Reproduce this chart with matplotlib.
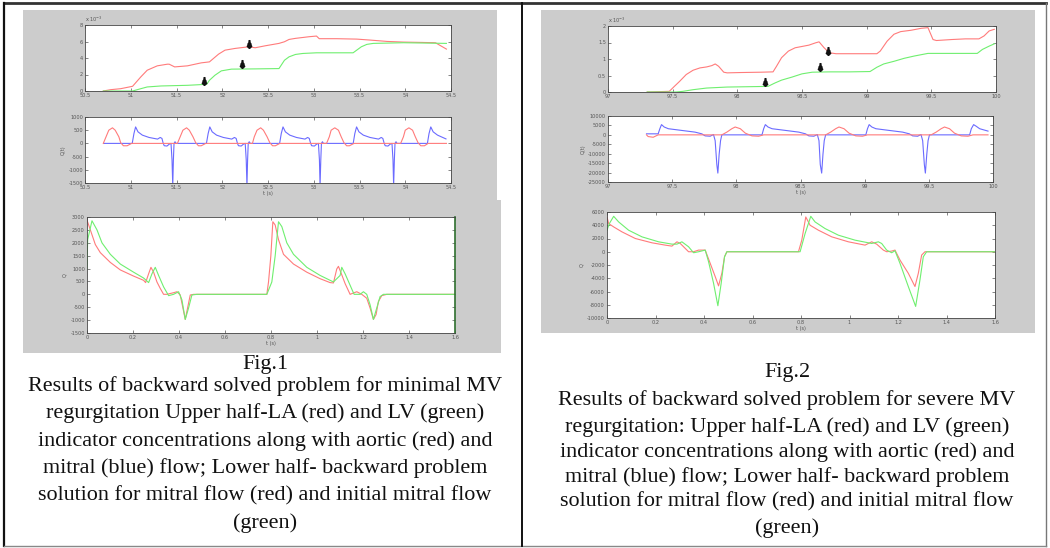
import numpy as np
import matplotlib
matplotlib.use('Agg')
import matplotlib.pyplot as plt
from matplotlib.patches import Rectangle
from matplotlib.lines import Line2D
from matplotlib.ticker import FixedLocator, FixedFormatter

W, H = 1050, 548

# ---------------- Fig.1 (minimal MV regurgitation) ----------------
# Upper: LA (red) and LV (green) indicator concentrations (x1e-3)
f1_la_t = [50.70, 50.78, 50.89, 51.02, 51.11, 51.18, 51.29, 51.40, 51.42, 51.48, 51.62, 51.77,
           51.86, 51.96, 52.03, 52.14, 52.29, 52.36, 52.47, 52.62, 52.68, 52.73, 52.80, 52.95,
           53.03, 53.06, 53.25, 53.47, 53.62, 53.80, 53.98, 54.17, 54.33, 54.45]
f1_la_c = [0, 0.16, 0.28, 0.57, 1.71, 2.52, 3.05, 3.25, 3.25, 2.92, 3.05, 3.41,
           3.53, 4.47, 4.95, 5.16, 5.36, 5.24, 5.48, 5.77, 5.97, 6.25, 6.38, 6.58,
           6.66, 6.34, 6.34, 6.29, 6.17, 6.01, 5.93, 5.89, 5.85, 5.08]
f1_lv_t = [50.70, 51.02, 51.11, 51.18, 51.33, 51.62, 51.83, 51.86, 51.92, 51.99, 52.10, 52.36,
           52.62, 52.68, 52.73, 52.80, 52.88, 53.03, 53.43, 53.52, 53.58, 53.65, 53.98, 54.45]
f1_lv_c = [0, 0, 0.28, 0.49, 0.61, 0.69, 0.81, 1.30, 1.91, 2.44, 2.65, 2.68,
           2.72, 3.73, 4.14, 4.43, 4.55, 4.63, 4.63, 5.36, 5.65, 5.77, 5.85, 5.77]
f1_mark_t = [51.80, 52.22, 52.29]
f1_mark_c = [1.22, 3.33, 5.64]

# Middle: aortic (red) and mitral (blue) flow
f1_ao_t = [50.70, 50.73, 50.76, 50.80, 50.83, 50.87, 50.89, 50.92, 50.96, 51.01,
           51.51, 51.54, 51.57, 51.61, 51.64, 51.68, 51.71, 51.74, 51.77, 51.82,
           52.33, 52.35, 52.38, 52.42, 52.45, 52.49, 52.52, 52.55, 52.58, 52.63,
           53.14, 53.17, 53.19, 53.23, 53.27, 53.30, 53.33, 53.36, 53.39, 53.44,
           53.95, 53.98, 54.00, 54.04, 54.08, 54.11, 54.14, 54.17, 54.21, 54.25, 54.45]
f1_ao_q = [0, 250, 500, 590, 500, 250, 25, -90, -90, 0,
           0, 250, 500, 590, 500, 250, 25, -90, -90, 0,
           0, 250, 500, 590, 500, 250, 25, -90, -90, 0,
           0, 250, 500, 590, 500, 250, 25, -90, -90, 0,
           0, 250, 500, 590, 500, 250, 25, -90, -90, 0, 0]
f1_mv_t = [50.703,
           51.016, 51.035, 51.053, 51.079, 51.127, 51.200, 51.293, 51.322, 51.341, 51.355,
           51.366, 51.396, 51.422, 51.440, 51.451, 51.459, 51.466, 51.473, 51.484, 51.495,
           51.827, 51.846, 51.864, 51.890, 51.938, 52.012, 52.104, 52.133, 52.152, 52.166,
           52.177, 52.207, 52.233, 52.251, 52.262, 52.270, 52.277, 52.284, 52.295, 52.306,
           52.627, 52.645, 52.664, 52.690, 52.738, 52.811, 52.904, 52.933, 52.951, 52.966,
           52.977, 53.007, 53.033, 53.051, 53.062, 53.069, 53.077, 53.084, 53.095, 53.106,
           53.431, 53.449, 53.468, 53.494, 53.542, 53.615, 53.708, 53.737, 53.755, 53.770,
           53.781, 53.811, 53.837, 53.855, 53.866, 53.873, 53.881, 53.888, 53.899, 53.910,
           54.242, 54.260, 54.279, 54.305, 54.353, 54.445]
f1_mv_q = [0,
           0, 375, 625, 438, 313, 225, 163, 225, 188, 0,
           -88, -100, -25, 0, -625, -1600, -625, 0, 63, 0,
           0, 375, 625, 438, 313, 225, 163, 225, 188, 0,
           -88, -100, -25, 0, -625, -1600, -625, 0, 63, 0,
           0, 375, 625, 438, 313, 225, 163, 225, 188, 0,
           -88, -100, -25, 0, -625, -1600, -625, 0, 63, 0,
           0, 375, 625, 438, 313, 225, 163, 225, 188, 0,
           -88, -100, -25, 0, -625, -1600, -625, 0, 63, 0,
           0, 375, 625, 438, 313, 170]

# Lower: backward solution (red) and initial mitral flow (green)
f1_bw_t = [0.000, 0.0145, 0.0362, 0.0579, 0.1014, 0.1448, 0.2027, 0.2462, 0.2548, 0.2679,
           0.2780, 0.2896, 0.3041, 0.3186, 0.3330, 0.3475, 0.3765, 0.3910, 0.4054, 0.4170,
           0.4272, 0.4373, 0.4489, 0.4634, 0.7819, 0.7892, 0.7993, 0.8080, 0.8181, 0.8326,
           0.8543, 0.8978, 0.9557, 1.0136, 1.0570, 1.0715, 1.0860, 1.0932, 1.1077, 1.1222,
           1.1439, 1.1729, 1.1946, 1.2163, 1.2308, 1.2453, 1.2569, 1.2670, 1.2815, 1.3032, 1.6]
f1_bw_q = [2880, 2500, 1932, 1617, 1238, 947, 707, 543, 455, 796,
           1048, 859, 480, 227, 0, 0, 63, 101, -25, -530,
           -973, -530, -25, 0, 0, 480, 1490, 2816, 2690, 2122,
           1553, 1175, 859, 606, 455, 442, 985, 1086, 758, 417,
           0, 101, 0, -152, -530, -973, -783, -278, -51, 0, 0]
f1_in_t = [0.0, 0.0029, 0.0217, 0.0434, 0.0652, 0.1014, 0.1448, 0.2027, 0.2462, 0.2679,
           0.2824, 0.2968, 0.3113, 0.3330, 0.3548, 0.3765, 0.3982, 0.4127, 0.4272, 0.4416,
           0.4561, 0.4778, 0.7819, 0.8036, 0.8181, 0.8326, 0.8471, 0.8688, 0.8978, 0.9557,
           1.0136, 1.0715, 1.1005, 1.1077, 1.1222, 1.1439, 1.1613, 1.1874, 1.2018, 1.2163,
           1.2308, 1.2453, 1.2598, 1.2742, 1.2887, 1.6]
f1_in_q = [985, 2122, 2854, 2500, 1996, 1553, 1175, 859, 632, 455,
           796, 1048, 733, 290, -51, 0, 101, -215, -973, -530,
           -25, 0, 0, 480, 1490, 2816, 2627, 1996, 1553, 1048,
           733, 480, 733, 1048, 796, 354, 0, 0, 101, 0,
           -404, -973, -530, -88, 0, 0]

# ---------------- Fig.2 (severe MV regurgitation) ----------------
f2_la_t = [97.303, 97.474, 97.513, 97.553, 97.605, 97.658, 97.711, 97.763, 97.803, 97.829,
           97.855, 97.895, 97.921, 98.026, 98.184, 98.276, 98.303, 98.342, 98.395, 98.447,
           98.500, 98.553, 98.605, 98.632, 98.671, 98.711, 98.763, 98.921, 99.079, 99.105,
           99.158, 99.211, 99.263, 99.342, 99.421, 99.474, 99.513, 99.539, 99.658, 99.763,
           99.868, 99.908, 99.947, 99.987]
f2_la_c = [0, 0.02, 0.17, 0.32, 0.53, 0.66, 0.73, 0.76, 0.80, 0.85,
           0.78, 0.60, 0.58, 0.59, 0.60, 0.61, 0.78, 1.04, 1.24, 1.34,
           1.38, 1.42, 1.49, 1.52, 1.34, 1.19, 1.16, 1.16, 1.16, 1.24,
           1.54, 1.75, 1.83, 1.87, 1.93, 1.95, 1.59, 1.56, 1.59, 1.61,
           1.61, 1.70, 1.85, 1.90]
f2_lv_t = [97.303, 97.526, 97.579, 97.658, 97.763, 97.921, 98.079, 98.237, 98.289, 98.342,
           98.421, 98.500, 98.579, 98.711, 98.868, 99.026, 99.079, 99.132, 99.211, 99.289,
           99.368, 99.474, 99.855, 99.895, 99.947, 99.987]
f2_lv_c = [0, 0, 0.02, 0.07, 0.12, 0.15, 0.16, 0.17, 0.27, 0.36,
           0.45, 0.55, 0.60, 0.61, 0.61, 0.62, 0.75, 0.85, 0.93, 1.02,
           1.09, 1.17, 1.17, 1.29, 1.39, 1.46]
f2_mark_t = [98.211, 98.637, 98.703]
f2_mark_c = [0.30, 0.75, 1.24]

f2_ao_t = [97.300, 97.313, 97.352, 97.391,
           97.887, 97.926, 97.965, 97.991, 98.031, 98.070, 98.122, 98.174, 98.213,
           98.696, 98.735, 98.774, 98.800, 98.839, 98.878, 98.931, 98.983, 99.022,
           99.518, 99.557, 99.596, 99.622, 99.661, 99.700, 99.752, 99.805, 99.844, 99.961]
f2_ao_q = [0, -905, -1267, 0,
           0, 1448, 3258, 4163, 3258, 905, -543, -724, 0,
           0, 1448, 3258, 4163, 3258, 905, -543, -724, 0,
           0, 1448, 3258, 4163, 3258, 905, -543, -724, 0, 0]
f2_mv_t = [97.300,
           97.391, 97.404, 97.417, 97.438, 97.470, 97.574, 97.678, 97.731, 97.757, 97.796,
           97.822, 97.835, 97.848, 97.856, 97.866, 97.877, 97.887,
           98.200, 98.213, 98.226, 98.247, 98.278, 98.383, 98.487, 98.539, 98.565, 98.604,
           98.631, 98.644, 98.654, 98.665, 98.675, 98.685, 98.696,
           99.009, 99.022, 99.035, 99.056, 99.087, 99.191, 99.296, 99.348, 99.374, 99.413,
           99.439, 99.452, 99.465, 99.473, 99.484, 99.494, 99.505,
           99.818, 99.831, 99.849, 99.870, 99.896, 99.961]
f2_mv_q = [543,
           543, 3258, 5430, 4163, 3258, 2353, 1448, 543, -543, -724,
           181, -3077, -15747, -20272, -10317, -3077, 0,
           0, 3258, 5430, 4163, 3258, 2353, 1448, 543, -543, -724,
           181, -3077, -15747, -20272, -10317, -3077, 0,
           0, 3258, 5430, 4163, 3258, 2353, 1448, 543, -543, -724,
           181, -3077, -15747, -20272, -10317, -3077, 0,
           0, 3258, 5430, 4525, 3258, 1991]

f2_bw_t = [0.0, 0.0069, 0.0275, 0.0618, 0.1167, 0.1854, 0.2403, 0.2677, 0.2883, 0.3021,
           0.3227, 0.3364, 0.3570, 0.3776, 0.4050, 0.4256, 0.4462, 0.4600, 0.4737, 0.4847,
           0.4943, 0.7895, 0.8032, 0.8197, 0.8375, 0.8719, 0.9268, 0.9954, 1.0641, 1.0915,
           1.1121, 1.1396, 1.1533, 1.1739, 1.1876, 1.2082, 1.2425, 1.2700, 1.2838, 1.2975,
           1.3112, 1.6]
f2_bw_q = [5250, 4250, 3750, 3000, 2000, 1350, 1000, 850, 1500, 1250,
           500, 0, 0, 250, 250, -1750, -3750, -5150, -3250, -750,
           0, 0, 1750, 5250, 4000, 3250, 2250, 1500, 1000, 1500,
           1150, 250, 0, 100, 250, -1250, -3250, -5250, -3250, -500,
           0, 0]
f2_in_t = [0.0, 0.0096, 0.0275, 0.0481, 0.0892, 0.1442, 0.2128, 0.2677, 0.2883, 0.3089,
           0.3364, 0.3570, 0.3776, 0.4050, 0.4188, 0.4394, 0.4572, 0.4709, 0.4847, 0.4943,
           0.7963, 0.8169, 0.8403, 0.8581, 0.8993, 0.9542, 1.0229, 1.0915, 1.1190, 1.1327,
           1.1533, 1.1739, 1.1876, 1.2082, 1.2425, 1.2728, 1.2906, 1.3044, 1.3181, 1.6]
f2_in_q = [3250, 4250, 5350, 4500, 3250, 2250, 1500, 1150, 1150, 1500,
           750, -150, 0, 250, -1500, -4750, -8150, -4750, -750, 0,
           0, 2750, 5350, 4500, 3500, 2500, 1750, 1250, 1500, 1250,
           250, -150, 150, -1750, -5250, -8250, -4250, -750, 0, 0]

# Tick values
f1_time_ticks = [50.5, 51, 51.5, 52, 52.5, 53, 53.5, 54, 54.5]
f1_conc_ticks = [0, 2, 4, 6, 8]
f1_flow_ticks = [-1500, -1000, -500, 0, 500, 1000]
f1_bw_ticks = [-1500, -1000, -500, 0, 500, 1000, 1500, 2000, 2500, 3000]
f2_time_ticks = [97, 97.5, 98, 98.5, 99, 99.5, 100]
f2_conc_ticks = [0, 0.5, 1, 1.5, 2]
f2_flow_ticks = [-25000, -20000, -15000, -10000, -5000, 0, 5000, 10000]
f2_bw_ticks = [-10000, -8000, -6000, -4000, -2000, 0, 2000, 4000, 6000]
cycle_ticks = [0, 0.2, 0.4, 0.6, 0.8, 1, 1.2, 1.4, 1.6]

cap1 = ["Fig.1",
        "Results of backward solved problem for minimal MV",
        "regurgitation Upper half-LA (red) and LV (green)",
        "indicator concentrations along with aortic (red) and",
        "mitral (blue) flow; Lower half- backward problem",
        "solution for mitral flow (red) and initial mitral flow",
        "(green)"]
cap2 = ["Fig.2",
        "Results of backward solved problem for severe MV",
        "regurgitation: Upper half-LA (red) and LV (green)",
        "indicator concentrations along with aortic (red) and",
        "mitral (blue) flow; Lower half- backward problem",
        "solution for mitral flow (red) and initial mitral flow",
        "(green)"]

RED = '#ff7b7b'
GREEN = '#6fef6f'
BLUE = '#6b6bff'
GRAY = '#cccccc'

fig = plt.figure(figsize=(W / 100, H / 100), dpi=100)
fig.patch.set_facecolor('white')


def fx(x):
    return x / W


def fy(y):
    return 1 - y / H


def add_rect(x0, y0, x1, y1, **kw):
    fig.add_artist(Rectangle((fx(x0), fy(y1)), (x1 - x0) / W, (y1 - y0) / H,
                             transform=fig.transFigure, **kw))


def add_line(x0, y0, x1, y1, **kw):
    fig.add_artist(Line2D([fx(x0), fx(x1)], [fy(y0), fy(y1)], transform=fig.transFigure, **kw))


# gray MATLAB figure backgrounds
add_rect(23, 10, 497, 200, facecolor=GRAY, edgecolor='none', zorder=0)
add_rect(23, 200, 501, 353, facecolor=GRAY, edgecolor='none', zorder=0)
add_rect(541, 10, 1035, 333, facecolor=GRAY, edgecolor='none', zorder=0)


def mk_axes(x0, y0, x1, y1):
    ax = fig.add_axes([fx(x0), fy(y1), (x1 - x0) / W, (y1 - y0) / H])
    ax.set_facecolor('white')
    for s in ax.spines.values():
        s.set_color('#444444')
        s.set_linewidth(0.6)
    ax.tick_params(direction='in', length=2, width=0.5, labelsize=3.6, colors='#555555',
                   top=True, right=True, pad=1.5)
    return ax


def set_ticks(ax, axis, vals):
    labels = ['%g' % v for v in vals]
    if axis == 'x':
        ax.xaxis.set_major_locator(FixedLocator(vals))
        ax.xaxis.set_major_formatter(FixedFormatter(labels))
    else:
        ax.yaxis.set_major_locator(FixedLocator(vals))
        ax.yaxis.set_major_formatter(FixedFormatter(labels))


def draw_marks(ax, t, c):
    cc = np.array(c) * 1e-3
    ax.plot(t, cc, linestyle='none', marker=r'$\downarrow$', color='#111111', ms=5.5, zorder=5)
    ax.plot(t, cc, linestyle='none', marker='o', color='#111111', ms=2.2, zorder=5)


# ---- Fig.1 axes ----
ax = mk_axes(85, 25, 451, 91)
ax.plot(f1_la_t, np.array(f1_la_c) * 1e-3, color=RED, lw=0.8)
ax.plot(f1_lv_t, np.array(f1_lv_c) * 1e-3, color=GREEN, lw=0.8)
draw_marks(ax, f1_mark_t, f1_mark_c)
ax.set_xlim(50.5, 54.5)
ax.set_ylim(0, 8e-3)
set_ticks(ax, 'x', f1_time_ticks)
ax.set_yticks(np.array(f1_conc_ticks) * 1e-3)
ax.set_yticklabels(['%g' % v for v in f1_conc_ticks])
ax.text(0.0, 1.02, r'x 10$^{-3}$', transform=ax.transAxes, fontsize=3.6, color='#555555',
        ha='left', va='bottom')

ax = mk_axes(85, 117, 451, 183)
ax.plot(f1_mv_t, f1_mv_q, color=BLUE, lw=0.8)
ax.plot(f1_ao_t, f1_ao_q, color=RED, lw=0.8)
ax.set_xlim(50.5, 54.5)
ax.set_ylim(-1500, 1000)
set_ticks(ax, 'x', f1_time_ticks)
set_ticks(ax, 'y', f1_flow_ticks)
ax.set_ylabel('Q(t)', fontsize=3.6, color='#555555', labelpad=2)
ax.set_xlabel('t (s)', fontsize=3.6, color='#555555', labelpad=1)

ax = mk_axes(87, 217, 455, 333)
ax.plot(f1_bw_t, f1_bw_q, color=RED, lw=0.8)
ax.plot(f1_in_t, f1_in_q, color=GREEN, lw=0.8)
ax.set_xlim(0, 1.6)
ax.set_ylim(-1500, 3000)
set_ticks(ax, 'x', cycle_ticks)
set_ticks(ax, 'y', f1_bw_ticks)
ax.spines['right'].set_color('#2f6f2f')
ax.spines['right'].set_linewidth(1.2)
ax.set_ylabel('Q', fontsize=3.6, color='#555555', labelpad=2)
ax.set_xlabel('t (s)', fontsize=3.6, color='#555555', labelpad=1)

# ---- Fig.2 axes ----
ax = mk_axes(608, 26, 996, 92)
ax.plot(f2_la_t, np.array(f2_la_c) * 1e-3, color=RED, lw=0.8)
ax.plot(f2_lv_t, np.array(f2_lv_c) * 1e-3, color=GREEN, lw=0.8)
draw_marks(ax, f2_mark_t, f2_mark_c)
ax.set_xlim(97, 100)
ax.set_ylim(0, 2e-3)
set_ticks(ax, 'x', f2_time_ticks)
ax.set_yticks(np.array(f2_conc_ticks) * 1e-3)
ax.set_yticklabels(['%g' % v for v in f2_conc_ticks])
ax.text(0.0, 1.02, r'x 10$^{-3}$', transform=ax.transAxes, fontsize=3.6, color='#555555',
        ha='left', va='bottom')

ax = mk_axes(608, 116, 993, 182)
ax.plot(f2_mv_t, f2_mv_q, color=BLUE, lw=0.8)
ax.plot(f2_ao_t, f2_ao_q, color=RED, lw=0.8)
ax.set_xlim(97, 100)
ax.set_ylim(-25000, 10000)
set_ticks(ax, 'x', f2_time_ticks)
set_ticks(ax, 'y', f2_flow_ticks)
ax.set_ylabel('Q(t)', fontsize=3.6, color='#555555', labelpad=2)
ax.set_xlabel('t (s)', fontsize=3.6, color='#555555', labelpad=1)

ax = mk_axes(607, 212, 995, 318)
ax.plot(f2_bw_t, f2_bw_q, color=RED, lw=0.8)
ax.plot(f2_in_t, f2_in_q, color=GREEN, lw=0.8)
ax.set_xlim(0, 1.6)
ax.set_ylim(-10000, 6000)
set_ticks(ax, 'x', cycle_ticks)
set_ticks(ax, 'y', f2_bw_ticks)
ax.set_ylabel('Q', fontsize=3.6, color='#555555', labelpad=2)
ax.set_xlabel('t (s)', fontsize=3.6, color='#555555', labelpad=1)

# ---- captions ----
cap1_y = [364, 386, 413, 441, 468, 496, 523]
cap2_y = [373, 400, 427, 452, 477, 502, 528]
for txt, yy in zip(cap1, cap1_y):
    fig.text(fx(265), fy(yy), txt, ha='center', va='center', fontsize=15.9,
             family='Liberation Serif', color='#111111')
for txt, yy in zip(cap2, cap2_y):
    fig.text(fx(787), fy(yy), txt, ha='center', va='center', fontsize=15.9,
             family='Liberation Serif', color='#111111')

# ---- table borders ----
add_line(4, 3, 1046, 3, color='#333333', lw=2.0)
add_line(4, 3, 4, 546, color='#111111', lw=1.6)
add_line(1046, 3, 1046, 546, color='#777777', lw=1.0)
add_line(4, 546, 1046, 546, color='#888888', lw=1.0)
add_line(522, 3, 522, 546, color='#111111', lw=1.4)

fig.savefig('out.png', dpi=100, facecolor='white')
